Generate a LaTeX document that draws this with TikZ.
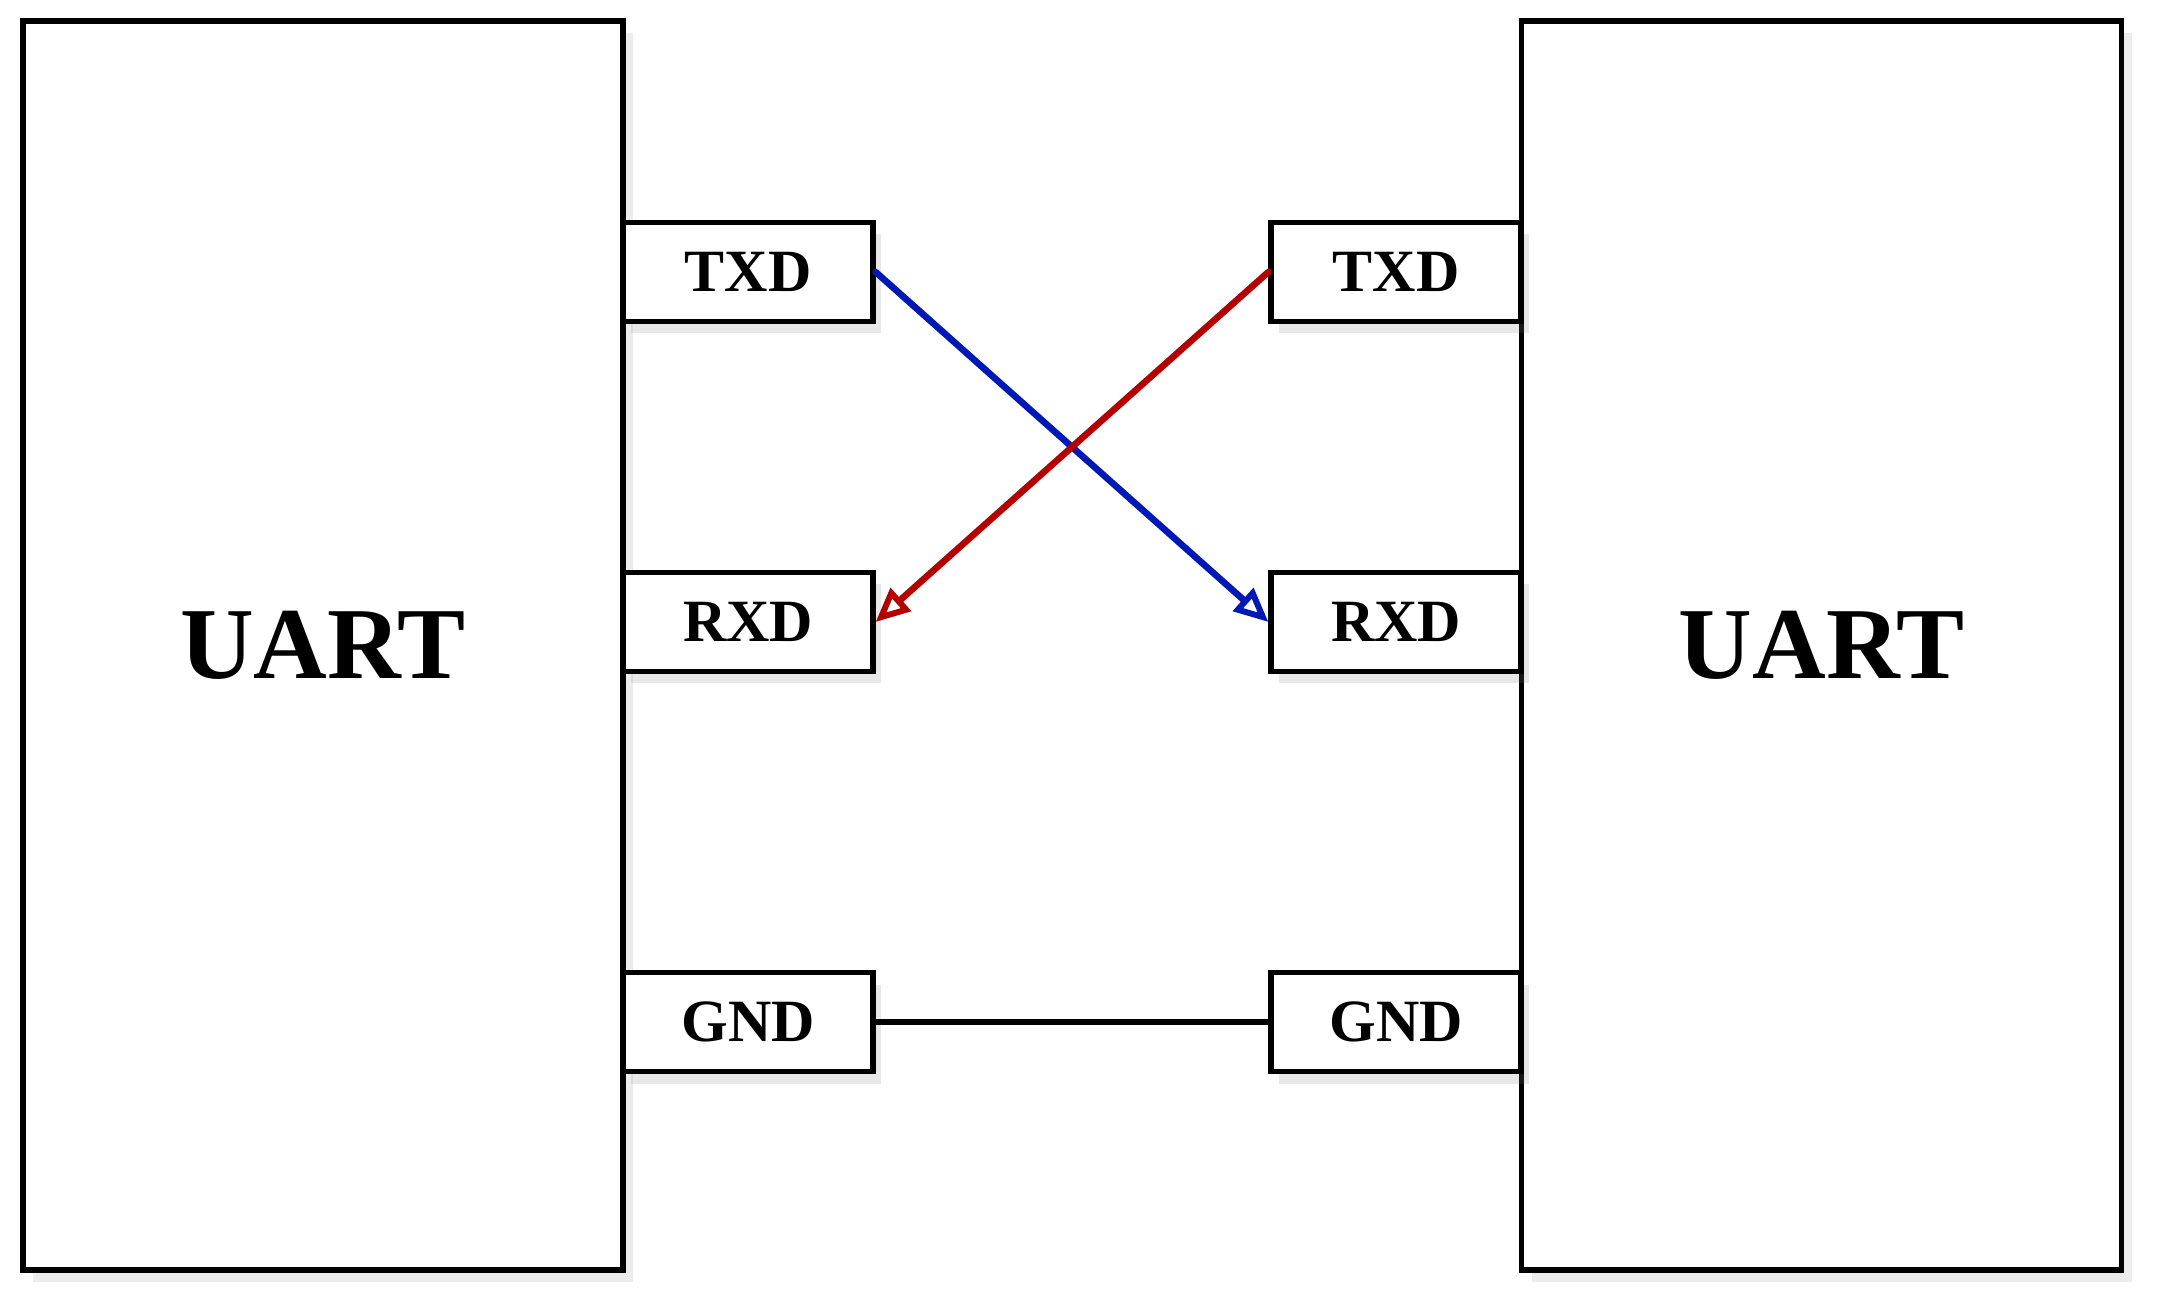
\documentclass[tikz,border=0pt]{standalone}
\usepackage{fontspec}
\setmainfont{Liberation Serif}
\usetikzlibrary{arrows.meta,shadows}
\definecolor{txblue}{HTML}{0019B5}
\definecolor{txred}{HTML}{B40000}

\begin{document}
\begin{tikzpicture}[x=0.5pt,y=-0.5pt,
  chip/.style={draw, line width=2.6pt, fill=white, minimum width=300pt, minimum height=624.5pt,
    inner sep=0pt, font=\bfseries\fontsize{51}{51}\selectfont,
    drop shadow={shadow xshift=5pt, shadow yshift=-6pt, opacity=0.15}},
  pin/.style={draw, line width=2.6pt, fill=white, minimum width=125pt, minimum height=49.5pt,
    inner sep=0pt, font=\bfseries\fontsize{30}{30}\selectfont,
    drop shadow={shadow xshift=4pt, shadow yshift=-6pt, opacity=0.18}},
  wire/.style={line width=3.3pt, line cap=round, -{Triangle[open, length=17pt, width=15pt, line width=3pt]}}]
  \useasboundingbox (0,0) rectangle (2160,1315);
  % the two uart blocks
  \node[chip] (l) at (323,645.5) {UART};
  \node[chip] (r) at (1821.5,645.5) {UART};
  % pins
  \node[pin] (l-tx) at (748,272) {TXD};
  \node[pin] (l-rx) at (748,622) {RXD};
  \node[pin] (l-gnd) at (748,1022) {GND};
  \node[pin] (r-tx) at (1396,272) {TXD};
  \node[pin] (r-rx) at (1396,622) {RXD};
  \node[pin] (r-gnd) at (1396,1022) {GND};
  % wires
  \draw[wire, txblue] (l-tx.east) -- (r-rx.west);
  \draw[wire, txred] (r-tx.west) -- (l-rx.east);
  \draw[line width=2.6pt] (l-gnd.east) -- (r-gnd.west);
\end{tikzpicture}
\end{document}
